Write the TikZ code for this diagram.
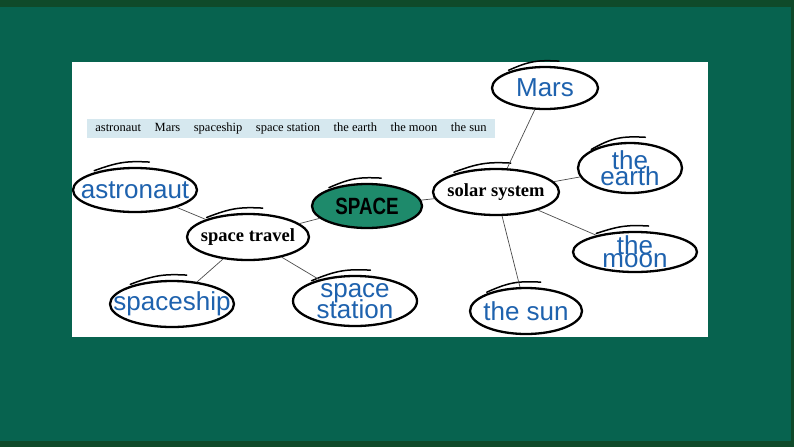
\documentclass[tikz,border=0pt]{standalone}
\usepackage{fontspec}
\setmainfont{Liberation Serif}
\newfontfamily\labelfont{Liberation Sans}
\usetikzlibrary{shapes.geometric,calc}
\definecolor{Board}{HTML}{07634F}
\definecolor{BoardEdge}{HTML}{0F4A2A}
\definecolor{Topic}{HTML}{1E8A6B}
\definecolor{Word}{HTML}{1E62AE}
\definecolor{Bank}{HTML}{D6E8EF}

\tikzset{
  bubble/.style 2 args={ellipse,draw=black,line width=2.3pt,fill=white,inner sep=0pt,
    minimum width=#1,minimum height=#2},
  blue word/.style={text=Word,font=\labelfont\fontsize{26}{17}\selectfont,align=center},
  topic word/.style={font=\bfseries\fontsize{18.5}{20}\selectfont},
  link/.style={draw=black!70,line width=0.7pt},
  swoosh/.style={line width=1.5pt,line cap=round}
}

\begin{document}
\begin{tikzpicture}[x=1pt,y=-1pt]
  % board and panel
  \fill[Board] (0,0) rectangle (794,447);
  \fill[BoardEdge] (0,0) rectangle (794,7);
  \fill[BoardEdge] (0,441) rectangle (794,447);
  \fill[BoardEdge] (791,0) rectangle (794,447);
  \fill[white] (72,62) rectangle (708,337);

  % word bank
  \node[fill=Bank,minimum width=408,minimum height=19,inner sep=0pt,
        font=\fontsize{12.5}{14}\selectfont] (bank) at (291,128.5)
    {astronaut\hspace{13.5pt}Mars\hspace{13.5pt}spaceship\hspace{13.5pt}space station\hspace{13.5pt}the earth\hspace{13.5pt}the moon\hspace{13.5pt}the sun};

  % topics
  \node[bubble={110}{44},fill=Topic,
        label={[font=\labelfont\bfseries\fontsize{23.5}{24}\selectfont]center:\scalebox{0.8}[1]{SPACE}}] (space) at (367,206) {};
  \node[bubble={122}{46},label={[topic word]center:space travel}] (travel) at (248,237) {};
  \node[bubble={126}{46},label={[topic word]center:solar system}] (solar) at (496,192) {};

  % words
  \node[bubble={124}{44},label={[blue word]center:astronaut}] (astronaut) at (135,190) {};
  \node[bubble={124}{46},label={[blue word]center:spaceship}] (spaceship) at (172,304) {};
  \node[bubble={124}{50},label={[blue word]center:space\\[-4pt]station}] (station) at (355,301) {};
  \node[bubble={106}{42},label={[blue word]center:Mars}] (mars) at (545,88) {};
  \node[bubble={104}{50},label={[blue word]center:the\\[-4pt]earth}] (earth) at (630,168) {};
  \node[bubble={124}{40},label={[blue word]center:the\\[-4pt]moon}] (moon) at (635,252) {};
  \node[bubble={112}{46},label={[blue word]center:the sun}] (sun) at (526,311) {};

  % hand-drawn strokes on top
  \foreach \n in {space,travel,solar,astronaut,spaceship,station,mars,earth,moon,sun}
    \draw[swoosh] ($(\n.160)+(4,-3)$) .. controls ($(\n.130)+(2,-6)$) and ($(\n.100)+(-4,-6)$) .. ($(\n.70)+(6,-5)$);

  % links
  \draw[link] (travel) -- (space);
  \draw[link] (space) -- (solar);
  \draw[link] (travel) -- (astronaut);
  \draw[link] (travel) -- (spaceship);
  \draw[link] (travel) -- (station);
  \draw[link] (solar) -- (mars);
  \draw[link] (solar) -- (earth);
  \draw[link] (solar) -- (moon);
  \draw[link] (solar) -- (sun);
\end{tikzpicture}
\end{document}
